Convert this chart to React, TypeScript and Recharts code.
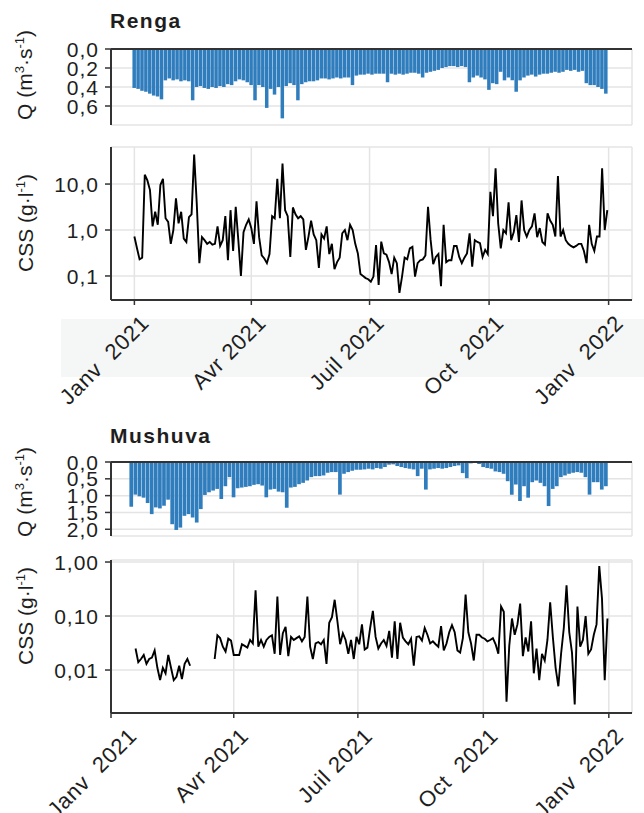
import React from "react";
import {
  BarChart,
  Bar,
  LineChart,
  Line,
  XAxis,
  YAxis,
  CartesianGrid,
} from "recharts";

// ---------- data ----------
// Day offsets (from 1 Jan 2021) of the date ticks, and their labels
const tickDays = [0, 90, 181, 273, 365];
const tickLabels = ["Janv\u00a0 2021", "Avr 2021", "Juil 2021", "Oct\u00a0 2021", "Janv\u00a0 2022"];

// Discharge Q (m3/s), one value every 3 days
const Q_STEP = 3;
const rengaQStart = 0;
const rengaQ = [
  0.41, 0.42, 0.44, 0.45, 0.47, 0.49, 0.5, 0.53, 0.33, 0.31,
  0.33, 0.32, 0.34, 0.33, 0.34, 0.54, 0.4, 0.39, 0.41, 0.42,
  0.4, 0.41, 0.39, 0.4, 0.37, 0.38, 0.34, 0.32, 0.33, 0.35,
  0.38, 0.54, 0.38, 0.4, 0.62, 0.42, 0.48, 0.4, 0.73, 0.39,
  0.36, 0.38, 0.54, 0.37, 0.35, 0.34, 0.34, 0.33, 0.31, 0.31,
  0.32, 0.31, 0.3, 0.31, 0.3, 0.3, 0.38, 0.28, 0.27, 0.27,
  0.26, 0.27, 0.26, 0.26, 0.26, 0.35, 0.26, 0.27, 0.26, 0.27,
  0.26, 0.25, 0.25, 0.26, 0.3, 0.25, 0.24, 0.23, 0.22, 0.2,
  0.19, 0.18, 0.18, 0.19, 0.18, 0.19, 0.35, 0.3, 0.28, 0.3,
  0.32, 0.43, 0.36, 0.37, 0.24, 0.33, 0.3, 0.33, 0.45, 0.33,
  0.3, 0.28, 0.27, 0.29, 0.27, 0.26, 0.26, 0.25, 0.24, 0.25,
  0.24, 0.22, 0.23, 0.22, 0.24, 0.23, 0.36, 0.38, 0.38, 0.4,
  0.42, 0.47,
];
const mushuvaQStart = 15;
const mushuvaQ = [
  1.33, 0.97, 1.02, 1.06, 1.22, 1.55, 1.35, 1.38, 1.3, 1.12,
  1.85, 2.02, 1.95, 1.6, 1.55, 1.65, 1.8, 1.4, 0.98, 0.9,
  0.85, 0.8, 1.1, 0.72, 0.45, 1.05, 0.78, 0.76, 0.74, 0.72,
  0.68, 0.66, 0.7, 1.05, 0.82, 0.8, 0.88, 0.9, 1.36, 0.76,
  0.74, 0.66, 0.62, 0.55, 0.45, 0.42, 0.42, 0.4, 0.32, 0.3,
  0.3, 0.97, 0.35, 0.3, 0.26, 0.23, 0.23, 0.22, 0.2, 0.22,
  0.18, 0.2, 0.15, 0.08, 0.07, 0.12, 0.15, 0.18, 0.2, 0.22,
  0.42, 0.2, 0.82, 0.22, 0.2, 0.18, 0.2, 0.18, 0.15, 0.12,
  0.1, 0.33, 0.48, 0.04, 0.03, 0.06, 0.15, 0.18, 0.2, 0.28,
  0.3, 0.35, 0.57, 0.97, 0.67, 1.16, 0.72, 1.06, 0.6, 0.55,
  0.62, 0.72, 1.31, 0.8, 0.72, 0.45, 0.4, 0.35, 0.32, 0.3,
  0.32, 0.45, 0.97, 0.6, 0.6, 0.82, 0.72,
];

// Suspended sediment concentration CSS (g/l), one value every 2 days
const CSS_STEP = 2;
const rengaCss = [
  0.72, 0.4, 0.23, 0.25, 16, 12, 7.4, 1.2, 2.5, 1.3,
  9.5, 13, 1.8, 1.5, 0.5, 1.0, 4.9, 1.4, 2.5, 0.65,
  0.55, 1.9, 2.2, 44, 3.8, 0.19, 0.7, 0.6, 0.5, 0.55,
  0.48, 0.5, 1.2, 0.45, 0.6, 2.0, 0.22, 2.7, 0.35, 3.2,
  0.6, 0.1, 0.9, 1.3, 1.7, 1.1, 0.5, 4.2, 0.7, 0.28,
  0.24, 0.19, 0.3, 2.0, 1.8, 13, 1.8, 28, 2.7, 2.0,
  0.26, 3.1, 2.2, 1.8, 2.0, 1.7, 0.37, 0.72, 1.6, 0.8,
  0.6, 0.15, 0.8, 0.65, 1.2, 0.3, 0.5, 0.14, 0.2, 0.25,
  0.85, 1.0, 0.6, 1.3, 1.0, 0.5, 0.31, 0.11, 0.1, 0.09,
  0.085, 0.075, 0.097, 0.47, 0.064, 0.56, 0.31, 0.29, 0.2, 0.11,
  0.25, 0.19, 0.043, 0.097, 0.25, 0.23, 0.4, 0.43, 0.097, 0.19,
  0.22, 0.23, 0.28, 3.2, 0.61, 0.18, 0.26, 0.3, 0.06, 1.3,
  0.2, 0.22, 0.22, 0.45, 0.45, 0.26, 0.19, 0.25, 0.31, 0.85,
  0.16, 0.6, 0.55, 0.52, 0.26, 0.37, 0.3, 6.8, 2.0, 22,
  1.4, 0.4, 1.0, 0.85, 4.0, 0.6, 0.9, 2.1, 0.55, 4.4,
  1.0, 0.72, 1.0, 1.2, 2.3, 0.7, 1.1, 0.55, 0.48, 2.3,
  1.6, 1.3, 0.72, 15, 0.72, 1.0, 0.6, 0.5, 0.45, 0.42,
  0.45, 0.5, 0.5, 0.35, 0.19, 1.3, 0.5, 0.35, 0.72, 0.72,
  22, 1.0, 2.7,
];
const mushuvaCss: (number | null)[] = [
  null, null, null, null, null, null, null, null, null, 0.025,
  0.014, 0.016, 0.019, 0.013, 0.016, 0.017, 0.023, 0.011, 0.0065, 0.011,
  0.0087, 0.019, 0.011, 0.0065, 0.0075, 0.012, 0.0068, 0.013, 0.016, 0.012,
  null, null, null, null, null, null, null, null, 0.016, 0.044,
  0.039, 0.027, 0.022, 0.038, 0.035, 0.019, 0.019, 0.019, 0.03, 0.028,
  0.026, 0.036, 0.031, 0.3, 0.027, 0.036, 0.027, 0.036, 0.041, 0.044,
  0.02, 0.23, 0.019, 0.048, 0.063, 0.018, 0.041, 0.036, 0.039, 0.042,
  0.034, 0.041, 0.23, 0.027, 0.016, 0.031, 0.033, 0.03, 0.036, 0.013,
  0.075, 0.095, 0.2, 0.08, 0.03, 0.048, 0.036, 0.02, 0.036, 0.016,
  0.041, 0.03, 0.07, 0.024, 0.026, 0.06, 0.125, 0.041, 0.025, 0.031,
  0.036, 0.028, 0.053, 0.017, 0.08, 0.016, 0.075, 0.04, 0.034, 0.03,
  0.038, 0.012, 0.041, 0.042, 0.035, 0.06, 0.045, 0.031, 0.034, 0.03,
  0.027, 0.065, 0.023, 0.031, 0.05, 0.068, 0.05, 0.023, 0.021, 0.039,
  0.25, 0.05, 0.031, 0.015, 0.045, 0.045, 0.04, 0.038, 0.034, 0.036,
  0.039, 0.03, 0.02, 0.15, 0.12, 0.0026, 0.028, 0.09, 0.045, 0.07,
  0.17, 0.018, 0.04, 0.022, 0.08, 0.0087, 0.025, 0.0065, 0.02, 0.015,
  0.036, 0.18, 0.04, 0.011, 0.005, 0.02, 0.06, 0.37, 0.05, 0.021,
  0.0023, 0.15, 0.027, 0.036, 0.1, 0.02, 0.024, 0.045, 0.07, 0.84,
  0.21, 0.0065, 0.09,
];

const rengaQTicks = [0, 0.2, 0.4, 0.6];
const mushuvaQTicks = [0, 0.5, 1, 1.5, 2];
const rengaCssTicks = [0.1, 1, 10];
const mushuvaCssTicks = [0.01, 0.1, 1];

// ---------- tables ----------
const rengaQData = rengaQ.map((q, i) => ({ day: rengaQStart + i * Q_STEP, q }));
const mushuvaQData = mushuvaQ.map((q, i) => ({ day: mushuvaQStart + i * Q_STEP, q }));
const rengaCssData = rengaCss.map((c, i) => ({ day: i * CSS_STEP, c }));
const mushuvaCssData = mushuvaCss.map((c, i) => ({ day: i * CSS_STEP, c }));

// ---------- styles ----------
const FONT = '"Liberation Sans", Arial, Helvetica, sans-serif';
const AXIS = "#333333";
const GRID = "#e4e4e4";
const BAR = "#2f7dbd";
const TEXT = "#1e1e1e";

const fmt = (d: number) => (v: number) => v.toFixed(d).replace(".", ",");

const makeYTick = (digits: number) => (props: any) => {
  const { x, y, payload } = props;
  return (
    <text
      x={x}
      y={y}
      dy="0.36em"
      textAnchor="end"
      fontSize={21}
      fill={TEXT}
      fontFamily={FONT}
      style={{ letterSpacing: "1px" }}
    >
      {fmt(digits)(payload.value)}
    </text>
  );
};

const makeXTick = (firstNudge: number) => (props: any) => {
  const { x, y, payload, index } = props;
  const ax = x + 5 + (index === 0 ? firstNudge : 0);
  const ay = y;
  const k = tickDays.indexOf(payload.value);
  return (
    <text
      x={ax}
      y={ay}
      dy="0.72em"
      textAnchor="end"
      transform={`rotate(-45, ${ax}, ${ay})`}
      fontSize={22}
      fill={TEXT}
      fontFamily={FONT}
      style={{ letterSpacing: "0.8px" }}
    >
      {tickLabels[k]}
    </text>
  );
};

const axisLine = { stroke: AXIS, strokeWidth: 2 };
const tickLine = { stroke: AXIS, strokeWidth: 1.5 };

function QPanel(props: {
  data: any[];
  top: number;
  marginTop: number;
  marginBottom: number;
  height: number;
  xDomain: [number, number];
  yMax: number;
  yTicks: number[];
  barSize: number;
}) {
  const { data, top, marginTop, marginBottom, height, xDomain, yMax, yTicks, barSize } = props;
  return (
    <div style={{ position: "absolute", left: 0, top }}>
      <BarChart
        width={644}
        height={height}
        data={data}
        margin={{ top: marginTop, right: 12, bottom: marginBottom, left: 0 }}
        barCategoryGap={0}
        barGap={0}
      >
        <CartesianGrid stroke={GRID} strokeWidth={1.5} />
        <XAxis
          dataKey="day"
          type="number"
          orientation="top"
          domain={xDomain}
          ticks={tickDays}
          interval={0}
          height={5}
          tick={false}
          tickLine={false}
          axisLine={axisLine}
          allowDataOverflow
        />
        <YAxis
          type="number"
          width={111}
          reversed
          domain={[0, yMax]}
          ticks={yTicks}
          interval={0}
          allowDataOverflow
          tickSize={6}
          tickMargin={6}
          tickLine={tickLine}
          axisLine={axisLine}
          tick={makeYTick(1)}
        />
        <Bar dataKey="q" fill={BAR} barSize={barSize} isAnimationActive={false} />
      </BarChart>
    </div>
  );
}

function CssPanel(props: {
  data: any[];
  top: number;
  marginTop: number;
  marginBottom: number;
  height: number;
  xDomain: [number, number];
  yDomain: [number, number];
  yTicks: number[];
  digits: number;
  firstNudge: number;
}) {
  const { data, top, marginTop, marginBottom, height, xDomain, yDomain, yTicks, digits, firstNudge } = props;
  return (
    <div style={{ position: "absolute", left: 0, top }}>
      <LineChart
        width={644}
        height={height}
        data={data}
        margin={{ top: marginTop, right: 12, bottom: marginBottom, left: 0 }}
      >
        <CartesianGrid stroke={GRID} strokeWidth={1.5} />
        <XAxis
          dataKey="day"
          type="number"
          domain={xDomain}
          ticks={tickDays}
          interval={0}
          height={100}
          tickSize={5}
          tickMargin={8}
          tickLine={tickLine}
          axisLine={axisLine}
          tick={makeXTick(firstNudge)}
          allowDataOverflow
        />
        <YAxis
          type="number"
          scale="log"
          width={111}
          domain={yDomain}
          ticks={yTicks}
          interval={0}
          allowDataOverflow
          tickSize={6}
          tickMargin={6}
          tickLine={tickLine}
          axisLine={axisLine}
          tick={makeYTick(digits)}
        />
        <Line
          dataKey="c"
          stroke="#000"
          strokeWidth={1.9}
          dot={false}
          connectNulls={false}
          isAnimationActive={false}
        />
      </LineChart>
    </div>
  );
}

function VLabel(props: { x: number; y: number; head: string; supA?: string; mid: string; supB: string }) {
  const { x, y, head, supA, mid, supB } = props;
  return (
    <text
      x={x}
      y={y}
      textAnchor="middle"
      transform={`rotate(-90, ${x}, ${y})`}
      fontSize={21}
      fill={TEXT}
      fontFamily={FONT}
    >
      {head}
      {supA ? <tspan dy={-8} fontSize={13}>{supA}</tspan> : null}
      <tspan dy={supA ? 8 : 0}>{mid}</tspan>
      <tspan dy={-8} fontSize={13}>{supB}</tspan>
      <tspan dy={8}>)</tspan>
    </text>
  );
}

export default function App() {
  return (
    <div
      style={{
        position: "absolute",
        left: 0,
        top: 0,
        width: 644,
        height: 813,
        background: "#ffffff",
        overflow: "hidden",
        fontFamily: FONT,
      }}
    >
      <div
        style={{
          position: "absolute",
          left: 61,
          top: 319,
          width: 583,
          height: 58,
          background: "#f5f7f6",
        }}
      />
      <QPanel
        data={rengaQData}
        top={0}
        marginTop={44}
        marginBottom={5}
        height={130}
        xDomain={[-18, 383]}
        yMax={0.8}
        yTicks={rengaQTicks}
        barSize={4.4}
      />
      <CssPanel
        data={rengaCssData}
        top={130}
        marginTop={17}
        marginBottom={20}
        height={290}
        xDomain={[-18, 383]}
        yDomain={[0.03, 64]}
        yTicks={rengaCssTicks}
        digits={1}
        firstNudge={0}
      />
      <QPanel
        data={mushuvaQData}
        top={410}
        marginTop={47}
        marginBottom={4}
        height={130}
        xDomain={[0, 382]}
        yMax={2.2}
        yTicks={mushuvaQTicks}
        barSize={4.6}
      />
      <CssPanel
        data={mushuvaCssData}
        top={540}
        marginTop={20}
        marginBottom={0}
        height={273}
        xDomain={[0, 382]}
        yDomain={[0.0016, 1.09]}
        yTicks={mushuvaCssTicks}
        digits={2}
        firstNudge={11}
      />
      <svg
        width={644}
        height={813}
        style={{ position: "absolute", left: 0, top: 0, pointerEvents: "none" }}
      >
        <text x={110} y={28} fontSize={21} fontWeight="bold" fill={TEXT} fontFamily={FONT} style={{ letterSpacing: "1.5px" }}>
          Renga
        </text>
        <text x={110} y={443} fontSize={21} fontWeight="bold" fill={TEXT} fontFamily={FONT} style={{ letterSpacing: "1.5px" }}>
          Mushuva
        </text>
        <VLabel x={32} y={75} head="Q (m" supA="3" mid="·s" supB="-1" />
        <VLabel x={33} y={223} head="CSS (g" mid="·l" supB="-1" />
        <VLabel x={32} y={492} head="Q (m" supA="3" mid="·s" supB="-1" />
        <VLabel x={33} y={616} head="CSS (g" mid="·l" supB="-1" />
      </svg>
    </div>
  );
}
